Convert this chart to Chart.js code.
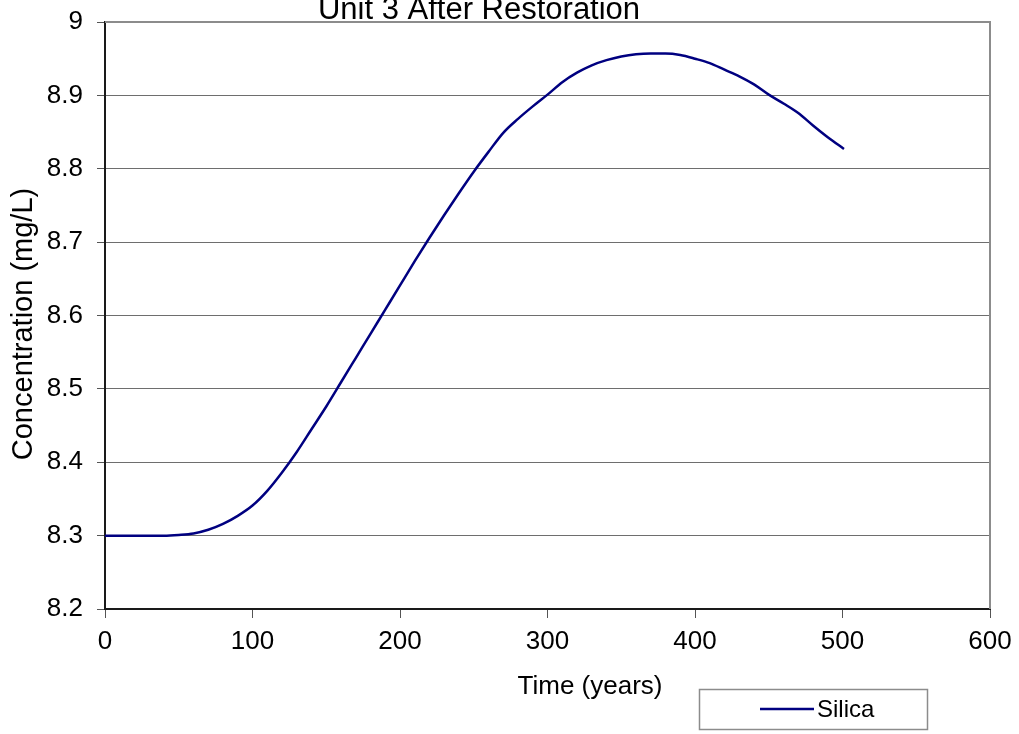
<!DOCTYPE html>
<html>
<head>
<meta charset="utf-8">
<title>Unit 3 After Restoration</title>
<script src="https://cdn.jsdelivr.net/npm/chart.js@4.4.1/dist/chart.umd.min.js"></script>
<style>
    html, body { margin: 0; padding: 0; background: #ffffff; }
    #wrap { width: 1019px; height: 734px; position: relative; }
</style>
</head>
<body>
<div id="wrap"><canvas id="silicachart" width="1019" height="734"></canvas></div>
<script>
"use strict";

/* data */
var years = [0, 10, 20, 30, 40, 50, 60, 70, 80, 90, 100, 110, 120, 130, 140, 150, 160, 170, 180, 190,
    200, 210, 220, 230, 240, 250, 260, 270, 280, 290, 300, 310, 320, 330, 340, 350, 360,
    370, 380, 390, 400, 410, 420, 430, 440, 450, 460, 470, 480, 490, 501];
var silica = [8.300, 8.300, 8.300, 8.300, 8.300, 8.301, 8.303, 8.308, 8.316, 8.327, 8.341, 8.361, 8.386, 8.414, 8.445, 8.476, 8.509, 8.542, 8.575, 8.608,
    8.641, 8.674, 8.706, 8.737, 8.767, 8.796, 8.823, 8.849, 8.868, 8.885, 8.901, 8.918, 8.931, 8.941, 8.948, 8.953, 8.956,
    8.957, 8.957, 8.955, 8.950, 8.944, 8.935, 8.926, 8.915, 8.901, 8.889, 8.876, 8.859, 8.843, 8.827];
var xTicks = [0, 100, 200, 300, 400, 500, 600];
var yTicks = [8.2, 8.3, 8.4, 8.5, 8.6, 8.7, 8.8, 8.9, 9];

var chartTitle = 'Unit 3 After Restoration';
var xTitle = 'Time (years)';
var yTitle = 'Concentration (mg/L)';
var seriesName = 'Silica';

document.addEventListener("DOMContentLoaded", function () {
    var font = "'Liberation Sans', Arial, sans-serif";

    var points = years.map(function (t, i) {
        return { x: t, y: silica[i] };
    });

    /* titles, plot frame and the boxed legend, the way excel draws them */
    var excelBits = {
        id: 'excelBits',
        afterDraw: function (chart) {
            var ctx = chart.ctx;
            var area = chart.chartArea;
            ctx.save();

            // top + right frame of the plot area
            ctx.strokeStyle = '#8c8c8c';
            ctx.lineWidth = 2;
            ctx.beginPath();
            ctx.moveTo(area.left, area.top);
            ctx.lineTo(area.right, area.top);
            ctx.lineTo(area.right, area.bottom);
            ctx.stroke();

            ctx.fillStyle = '#000000';
            ctx.textAlign = 'center';
            ctx.textBaseline = 'alphabetic';

            ctx.font = "31px " + font;
            ctx.fillText(chartTitle, 479, 19);

            ctx.font = "26px " + font;
            ctx.fillText(xTitle, 590, 694);

            ctx.save();
            ctx.translate(32, 324);
            ctx.rotate(-Math.PI / 2);
            ctx.font = "29px " + font;
            ctx.fillText(yTitle, 0, 0);
            ctx.restore();

            // legend box
            var ds = chart.data.datasets[0];
            ctx.strokeStyle = '#8c8c8c';
            ctx.lineWidth = 1.5;
            ctx.strokeRect(699.5, 689.5, 228, 40);
            ctx.strokeStyle = ds.borderColor;
            ctx.lineWidth = 2.5;
            ctx.beginPath();
            ctx.moveTo(760, 709);
            ctx.lineTo(814, 709);
            ctx.stroke();
            ctx.fillStyle = '#000000';
            ctx.textAlign = 'left';
            ctx.textBaseline = 'middle';
            ctx.font = "24px " + font;
            ctx.fillText(ds.label, 817, 710);

            ctx.restore();
        }
    };

    var silicachart = document.getElementById('silicachart').getContext('2d');

    var silicaConfig = {
        type: 'line',
        data: {
            datasets: [{
                label: seriesName,
                data: points,
                borderColor: '#000080',
                backgroundColor: 'rgba(0, 0, 0, 0)',
                borderWidth: 2.5,
                pointRadius: 0,
                fill: false,
                cubicInterpolationMode: 'monotone',
            }]
        },
        options: {
            responsive: false,
            animation: false,
            devicePixelRatio: 1,
            layout: {
                padding: { left: 0, right: 29, top: 22, bottom: 0 }
            },
            plugins: {
                legend: { display: false },
                title: { display: false },
                tooltip: { enabled: false },
            },
            scales: {
                x: {
                    type: 'linear',
                    min: 0,
                    max: 600,
                    afterBuildTicks: function (scale) {
                        scale.ticks = xTicks.map(function (v) { return { value: v }; });
                    },
                    afterFit: function (scale) {
                        scale.height = 125;
                        scale.paddingLeft = 0;
                        scale.paddingRight = 0;
                    },
                    grid: {
                        drawOnChartArea: false,
                        drawTicks: true,
                        tickLength: 9,
                        tickColor: '#555555',
                        tickWidth: 1,
                    },
                    border: { color: '#1a1a1a', width: 2 },
                    ticks: {
                        color: '#000000',
                        padding: 8,
                        maxRotation: 0,
                        font: { family: font, size: 26 },
                    },
                },
                y: {
                    type: 'linear',
                    min: 8.2,
                    max: 9,
                    afterBuildTicks: function (scale) {
                        scale.ticks = yTicks.map(function (v) { return { value: v }; });
                    },
                    afterFit: function (scale) {
                        scale.width = 105;
                        scale.paddingTop = 0;
                        scale.paddingBottom = 0;
                    },
                    grid: {
                        color: '#6e6e6e',
                        lineWidth: 1,
                        drawTicks: true,
                        tickLength: 8,
                        tickColor: '#555555',
                    },
                    border: { color: '#1a1a1a', width: 2 },
                    ticks: {
                        color: '#000000',
                        padding: 14,
                        font: { family: font, size: 26 },
                        callback: function (value) {
                            return String(parseFloat(value.toFixed(1)));
                        }
                    },
                }
            }
        },
        plugins: [excelBits]
    };
    var silicaChart = new Chart(silicachart, silicaConfig);
});
</script>
</body>
</html>
